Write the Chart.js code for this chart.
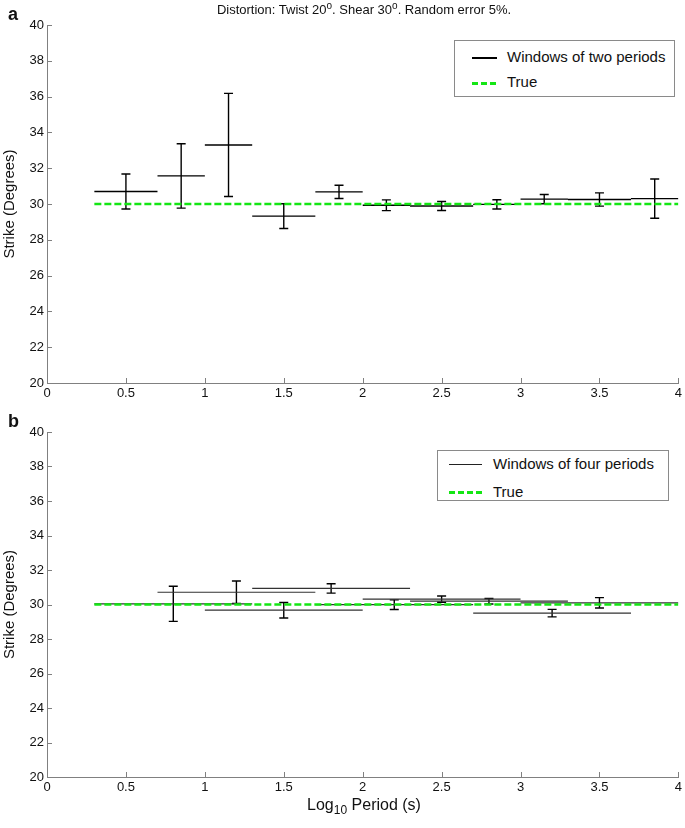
<!DOCTYPE html>
<html>
<head>
<meta charset="utf-8">
<script src="https://cdn.jsdelivr.net/npm/chart.js@4.4.1/dist/chart.umd.min.js"></script>
<style>
  body { margin: 0; background: #fff; font-family: "Liberation Sans", Arial, sans-serif; }
  #page { position: relative; width: 685px; height: 828px; overflow: hidden; }
  canvas { position: absolute; left: 0; }
  .txt { position: absolute; color: #111; white-space: nowrap; }
  .legend { position: absolute; border: 1px solid #8a8a8a; background: #fff; box-sizing: border-box; }
  .legend .row { position: absolute; font-size: 15px; line-height: 18px; color: #111; }
  .legend .solid { position: absolute; height: 2px; background: #000; }
  .legend .dash { position: absolute; height: 3px;
    background: repeating-linear-gradient(90deg, #14e614 0 6px, transparent 6px 9px); }
</style>
</head>
<body>
<div id="page">
  <canvas id="chartTop" width="685" height="405" style="top:0"></canvas>
  <canvas id="chartBottom" width="685" height="392" style="top:407px"></canvas>

  <div class="txt" style="left:0; width:728px; text-align:center; top:0px; font-size:13px;">
    Distortion: Twist 20<sup style="font-size:10px">o</sup>. Shear 30<sup style="font-size:10px">o</sup>. Random error 5%.
  </div>
  <div class="txt" style="left:8px; top:4px; font-size:18px; font-weight:bold;">a</div>
  <div class="txt" style="left:8px; top:411px; font-size:18px; font-weight:bold;">b</div>
  <div class="txt" style="left:0; width:728px; text-align:center; top:796px; font-size:16px;">
    Log<sub style="font-size:12px">10</sub> Period (s)
  </div>

  <div class="legend" style="left:454px; top:40px; width:221px; height:57px;">
    <div class="solid" style="left:17px; width:25px; top:16px;"></div>
    <div class="row" style="left:52px; top:7px;">Windows of two periods</div>
    <div class="dash" style="left:17px; width:25px; top:41px;"></div>
    <div class="row" style="left:52px; top:32px;">True</div>
  </div>
  <div class="legend" style="left:437px; top:450px; width:232px; height:51px;">
    <div class="solid" style="left:11px; width:33px; top:13px; height:1px; background:#222;"></div>
    <div class="row" style="left:55px; top:4px;">Windows of four periods</div>
    <div class="dash" style="left:11px; width:33px; top:40px;"></div>
    <div class="row" style="left:55px; top:32px;">True</div>
  </div>
</div>

<script>
// tick labels
const xTicks = [0, 0.5, 1, 1.5, 2, 2.5, 3, 3.5, 4];
const yTicks = [20, 22, 24, 26, 28, 30, 32, 34, 36, 38, 40];

// panel a: windows of two periods
const twoFrom   = [0.3, 0.7, 1.0, 1.3, 1.7, 2.0, 2.3, 2.7, 3.0, 3.3, 3.7];
const twoTo     = [0.7, 1.0, 1.3, 1.7, 2.0, 2.3, 2.7, 3.0, 3.3, 3.7, 4.0];
const twoCentre = [0.5, 0.85, 1.15, 1.5, 1.85, 2.15, 2.5, 2.85, 3.15, 3.5, 3.85];
const twoStrike = [30.70, 31.57, 33.30, 29.32, 30.68, 29.93, 29.89, 29.98, 30.27, 30.25, 30.30];
const twoErr    = [0.98, 1.80, 2.88, 0.69, 0.37, 0.30, 0.25, 0.26, 0.26, 0.37, 1.10];

// panel b: windows of four periods
const fourFrom   = [0.3, 0.7, 1.0, 1.3, 1.7, 2.0, 2.3, 2.7, 3.0];
const fourTo     = [1.3, 1.7, 2.0, 2.3, 2.7, 3.0, 3.3, 3.7, 4.0];
const fourCentre = [0.8, 1.2, 1.5, 1.8, 2.2, 2.5, 2.8, 3.2, 3.5];
const fourStrike = [30.04, 30.71, 29.67, 30.93, 29.99, 30.31, 30.19, 29.50, 30.10];
const fourErr    = [1.02, 0.65, 0.45, 0.27, 0.28, 0.18, 0.16, 0.22, 0.30];

// true strike
const trueX = [0.3, 4.0];
const trueY = [30, 30];

Chart.defaults.font.family = '"Liberation Sans", Arial, sans-serif';
Chart.defaults.font.size = 13;
Chart.defaults.color = '#111';

function windowLines(from, to, strike) {
    const pts = [];
    strike.forEach((v, i) => {
        pts.push({x: from[i], y: v}, {x: to[i], y: v}, {x: to[i], y: null});
    });
    return pts;
}

function errorLines(centre, strike, err) {
    const pts = [];
    strike.forEach((v, i) => {
        pts.push({x: centre[i], y: v - err[i]}, {x: centre[i], y: v + err[i]}, {x: centre[i], y: null});
    });
    return pts;
}

function capPoints(centre, strike, err) {
    const pts = [];
    strike.forEach((v, i) => {
        pts.push({x: centre[i], y: v - err[i]}, {x: centre[i], y: v + err[i]});
    });
    return pts;
}

// matlab style ticks pointing into the plot
const inwardTicks = {
    id: 'inwardTicks',
    afterDatasetsDraw(chart) {
        const ctx = chart.ctx;
        const area = chart.chartArea;
        ctx.save();
        ctx.strokeStyle = '#808080';
        ctx.lineWidth = 1;
        ctx.beginPath();
        chart.scales.x.ticks.forEach(t => {
            const px = Math.round(chart.scales.x.getPixelForValue(t.value)) + 0.5;
            ctx.moveTo(px, area.bottom);
            ctx.lineTo(px, area.bottom - 5);
        });
        chart.scales.y.ticks.forEach(t => {
            const py = Math.round(chart.scales.y.getPixelForValue(t.value)) + 0.5;
            ctx.moveTo(area.left, py);
            ctx.lineTo(area.left + 5, py);
        });
        ctx.stroke();
        ctx.restore();
    }
};

function makeChart(id, from, to, centre, strike, err, lineColor, lineWidth) {
    new Chart(document.getElementById(id), {
        type: 'line',
        data: {
            datasets: [
                {
                    label: 'True',
                    data: trueX.map((x, i) => ({x: x, y: trueY[i]})),
                    borderColor: '#14e614',
                    borderWidth: 2.6,
                    borderDash: [7, 3],
                    pointRadius: 0,
                },
                {
                    label: 'Windows',
                    data: windowLines(from, to, strike),
                    borderColor: lineColor,
                    borderWidth: lineWidth,
                    pointRadius: 0,
                    spanGaps: false,
                },
                {
                    label: 'Error',
                    data: errorLines(centre, strike, err),
                    borderColor: '#000',
                    borderWidth: 1.4,
                    pointRadius: 0,
                    spanGaps: false,
                },
                {
                    label: 'Caps',
                    data: capPoints(centre, strike, err),
                    showLine: false,
                    pointStyle: 'line',
                    pointRadius: 4.5,
                    pointBorderWidth: 1.4,
                    pointBorderColor: '#000',
                    borderColor: '#000',
                },
            ],
        },
        options: {
            responsive: false,
            animation: false,
            events: [],
            layout: {
                padding: {top: 25, right: 4, left: 0, bottom: 0},
            },
            plugins: {
                legend: {display: false},
                tooltip: {enabled: false},
            },
            scales: {
                x: {
                    type: 'linear',
                    min: 0,
                    max: 4,
                    afterBuildTicks: s => { s.ticks = xTicks.map(v => ({value: v})); },
                    afterFit: s => { s.height = 22; },
                    grid: {display: false, drawTicks: false},
                    border: {display: true, color: '#808080', width: 1},
                    ticks: {padding: 3, maxRotation: 0, autoSkip: false, callback: v => String(v)},
                },
                y: {
                    min: 20,
                    max: 40,
                    afterBuildTicks: s => { s.ticks = yTicks.map(v => ({value: v})); },
                    afterFit: s => { s.width = 47; },
                    grid: {display: false, drawTicks: false},
                    border: {display: true, color: '#808080', width: 1},
                    ticks: {padding: 3, autoSkip: false, callback: v => String(v)},
                    title: {
                        display: true,
                        text: 'Strike (Degrees)',
                        font: {size: 15},
                        padding: {top: 1, bottom: 0},
                    },
                },
            },
        },
        plugins: [inwardTicks],
    });
}

makeChart('chartTop', twoFrom, twoTo, twoCentre, twoStrike, twoErr, '#000', 1.4);
makeChart('chartBottom', fourFrom, fourTo, fourCentre, fourStrike, fourErr, '#333', 1.2);
</script>
</body>
</html>
